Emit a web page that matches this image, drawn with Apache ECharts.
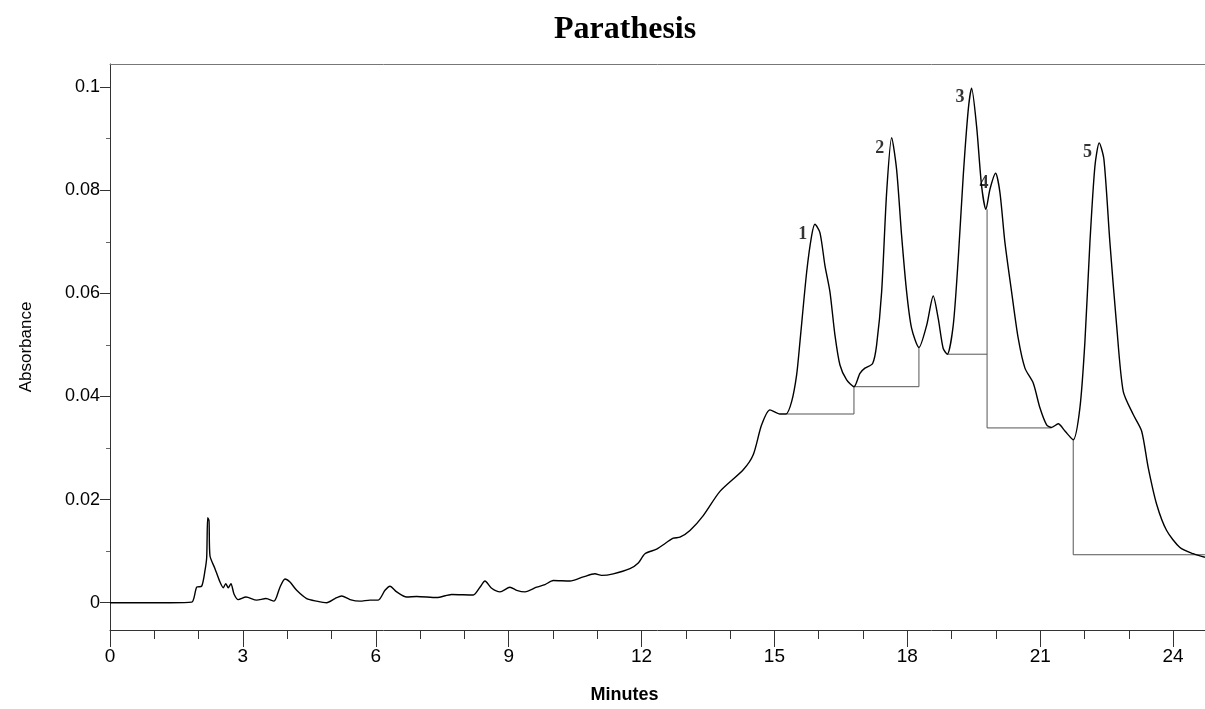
<!DOCTYPE html>
<html>
<head>
<meta charset="utf-8">
<script src="https://cdn.jsdelivr.net/npm/echarts@6/dist/echarts.min.js"></script>
<style>
html,body{margin:0;padding:0;background:#fff;}
#chart{width:1205px;height:709px;}
</style>
</head>
<body>
<div id="chart"></div>
<script>
// ---- data ----
const titleText = 'Parathesis';
const xName = 'Minutes';
const yName = 'Absorbance';

const times = [0,1.354,1.844,1.957,2.070,2.144,2.183,2.205,2.235,2.257,2.370,2.483,2.558,2.612,2.670,2.731,2.799,2.896,3.070,3.312,3.521,3.702,3.837,3.950,4.063,4.214,4.440,4.666,4.892,5.079,5.230,5.418,5.643,5.869,6.056,6.208,6.321,6.472,6.698,6.923,7.375,7.713,8.201,8.352,8.465,8.616,8.804,9.029,9.181,9.368,9.632,9.819,10.007,10.384,10.684,10.948,11.099,11.361,11.738,11.926,12.077,12.341,12.716,12.867,13.093,13.393,13.770,14.296,14.521,14.711,14.898,15.124,15.260,15.388,15.501,15.576,15.727,15.840,15.914,16.027,16.140,16.253,16.366,16.479,16.630,16.795,16.930,17.043,17.217,17.307,17.420,17.533,17.646,17.758,17.871,17.984,18.097,18.262,18.436,18.585,18.698,18.810,18.901,19.036,19.149,19.262,19.375,19.451,19.564,19.677,19.774,19.865,19.993,20.090,20.203,20.354,20.503,20.655,20.842,20.993,21.144,21.257,21.406,21.558,21.745,21.896,22.009,22.122,22.235,22.332,22.438,22.573,22.725,22.874,23.100,23.289,23.438,23.628,23.854,24.154,24.454,24.718];
const absorbance = [0,0,0.0001,0.0030,0.0032,0.0062,0.0088,0.0165,0.0159,0.0091,0.0066,0.0040,0.0029,0.0037,0.0029,0.0037,0.0017,0.0006,0.0011,0.0005,0.0008,0.0003,0.0030,0.0046,0.0040,0.0024,0.0008,0.0003,0.0000,0.0008,0.0013,0.0006,0.0003,0.0005,0.0005,0.0024,0.0032,0.0021,0.0011,0.0012,0.0010,0.0016,0.0015,0.0030,0.0042,0.0028,0.0021,0.0030,0.0024,0.0021,0.0030,0.0035,0.0043,0.0042,0.0050,0.0056,0.0053,0.0056,0.0066,0.0077,0.0095,0.0104,0.0125,0.0127,0.0140,0.0169,0.0216,0.0258,0.0287,0.0345,0.0374,0.0366,0.0366,0.0390,0.0442,0.0506,0.0641,0.0712,0.0734,0.0718,0.0654,0.0603,0.0519,0.0461,0.0432,0.0419,0.0445,0.0455,0.0464,0.0500,0.0603,0.0796,0.0902,0.0840,0.0712,0.0603,0.0532,0.0495,0.0538,0.0595,0.0551,0.0493,0.0482,0.0538,0.0667,0.0828,0.0956,0.0998,0.0924,0.0808,0.0763,0.0802,0.0833,0.0796,0.0699,0.0603,0.0513,0.0455,0.0426,0.0378,0.0345,0.0340,0.0347,0.0333,0.0316,0.0378,0.0506,0.0699,0.0847,0.0892,0.0860,0.0699,0.0538,0.0410,0.0365,0.0333,0.0262,0.0191,0.0140,0.0107,0.0095,0.0088];

// integration baselines / drop lines (each: list of [time, absorbance])
const baselineSegments = [
  [[15.26,0.0366],[16.795,0.0366],[16.795,0.0419]],
  [[16.795,0.0419],[18.262,0.0419],[18.262,0.0495]],
  [[18.901,0.0482],[19.80,0.0482]],
  [[19.80,0.0763],[19.80,0.0339],[21.257,0.0339]],
  [[21.745,0.0316],[21.745,0.0093],[24.718,0.0093]]
];

// peak number labels
const peakLabels = ['1','2','3','4','5'];
const peakLabelX = [15.64,17.38,19.19,19.73,22.07];
const peakLabelY = [0.0714,0.0881,0.0981,0.0813,0.0874];

// axes
const xMin = 0, xMax = 24.72;
const yMin = -0.0053, yMax = 0.1045;
const xMajorTicks = [0,3,6,9,12,15,18,21,24];
const xMinorTicks = [1,2,4,5,7,8,10,11,13,14,16,17,19,20,22,23];
const yMajorTicks = [0,0.02,0.04,0.06,0.08,0.1];
const yMinorTicks = [0.01,0.03,0.05,0.07,0.09];
const yTickLabels = ['0','0.02','0.04','0.06','0.08','0.1'];

// ---- chart ----
const chart = echarts.init(document.getElementById('chart'), null, {renderer:'canvas'});
const axisColor = '#333';
const sansFont = 'Liberation Sans, Arial, sans-serif';

const series = [{
  type: 'line',
  xAxisIndex: 0, yAxisIndex: 0,
  data: times.map((t, i) => [t, absorbance[i]]),
  showSymbol: false,
  smooth: 0.25,
  lineStyle: {color: '#000', width: 1.4},
  silent: true,
  z: 3
}];
baselineSegments.forEach(seg => {
  series.push({
    type: 'line', xAxisIndex: 0, yAxisIndex: 0,
    data: seg, showSymbol: false, smooth: false,
    lineStyle: {color: '#555', width: 1}, silent: true, z: 2
  });
});
series.push({
  type: 'scatter', xAxisIndex: 0, yAxisIndex: 0,
  data: peakLabelX.map((x, i) => [x, peakLabelY[i], peakLabels[i]]),
  symbolSize: 1,
  itemStyle: {color: 'rgba(0,0,0,0)'},
  label: {
    show: true, position: 'inside',
    formatter: p => p.data[2],
    fontFamily: 'Liberation Serif, Times New Roman, serif',
    fontWeight: 'bold', fontSize: 18, color: '#000'
  },
  silent: true, z: 4
});

const option = {
  backgroundColor: '#fff',
  animation: false,
  title: {
    text: titleText,
    left: 549, top: 9,
    textStyle: {
      fontFamily: 'Liberation Serif, Times New Roman, serif',
      fontWeight: 'bold', fontSize: 32, color: '#000'
    }
  },
  grid: {left: 110, right: 0, top: 64, bottom: 76, containLabel: false},
  xAxis: [{
    type: 'value', min: xMin, max: xMax, position: 'bottom',
    name: xName, nameLocation: 'middle', nameGap: 56,
    nameTextStyle: {fontFamily: sansFont, fontWeight: 'bold', fontSize: 18, color: '#000', padding: [0, 66, 0, 0]},
    axisLine: {show: true, onZero: false, lineStyle: {color: axisColor, width: 1}},
    axisTick: {show: true, inside: false, length: 17, customValues: xMajorTicks, lineStyle: {color: axisColor}},
    axisLabel: {show: true, margin: 17, customValues: xMajorTicks, fontFamily: sansFont, fontSize: 19, color: '#000'},
    splitLine: {show: false}
  }, {
    type: 'value', min: xMin, max: xMax, position: 'bottom', gridIndex: 0,
    axisLine: {show: false, onZero: false},
    axisTick: {show: true, inside: false, length: 9, customValues: xMinorTicks, lineStyle: {color: axisColor}},
    axisLabel: {show: false},
    splitLine: {show: false}
  }, {
    type: 'value', min: xMin, max: xMax, position: 'top', gridIndex: 0,
    axisLine: {show: true, onZero: false, lineStyle: {color: '#777', width: 1}},
    axisTick: {show: false}, axisLabel: {show: false}, splitLine: {show: false}
  }],
  yAxis: [{
    type: 'value', min: yMin, max: yMax, position: 'left',
    name: yName, nameLocation: 'middle', nameGap: 75, nameRotate: 90,
    nameTextStyle: {fontFamily: sansFont, fontSize: 17, color: '#000'},
    axisLine: {show: true, onZero: false, lineStyle: {color: axisColor, width: 1}},
    axisTick: {show: true, inside: false, length: 10, customValues: yMajorTicks, lineStyle: {color: axisColor}},
    axisLabel: {
      show: true, margin: 10, customValues: yMajorTicks,
      formatter: v => {
        const i = yMajorTicks.findIndex(t => Math.abs(t - v) < 1e-9);
        return i >= 0 ? yTickLabels[i] : '';
      },
      fontFamily: sansFont, fontSize: 18, color: '#000'
    },
    splitLine: {show: false}
  }, {
    type: 'value', min: yMin, max: yMax, position: 'left', gridIndex: 0,
    axisLine: {show: false, onZero: false},
    axisTick: {show: true, inside: false, length: 4, customValues: yMinorTicks, lineStyle: {color: '#666'}},
    axisLabel: {show: false},
    splitLine: {show: false}
  }],
  series: series
};
chart.setOption(option);
</script>
</body>
</html>
